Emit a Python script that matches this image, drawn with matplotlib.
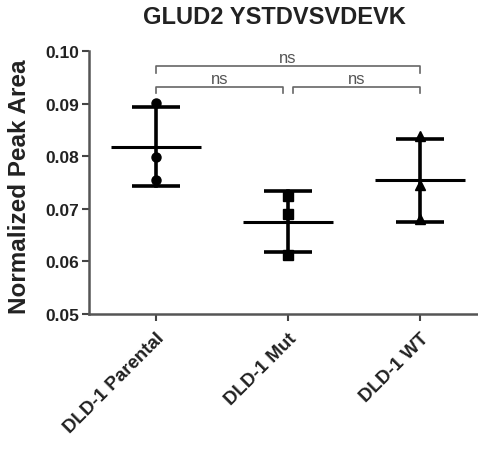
import numpy as np
import matplotlib
matplotlib.use("Agg")
import matplotlib.pyplot as plt

plt.rcParams['font.family'] = ['Liberation Sans', 'DejaVu Sans']

# data
groups = ["DLD-1 Parental", "DLD-1 Mut", "DLD-1 WT"]
parental = [0.0902, 0.0798, 0.0755]
mut = [0.0725, 0.0690, 0.0612]
wt = [0.0838, 0.0745, 0.0681]
markers = ["o", "s", "^"]
comparisons = [(0, 1, "ns", 0.0932), (1, 2, "ns", 0.0932), (0, 2, "ns", 0.0971)]

fig = plt.figure(figsize=(4.78, 4.56), dpi=100)
ax = fig.add_axes([89 / 478, 1 - 315 / 456, (478 - 89) / 478, (315 - 52) / 456])

for i, (vals, m) in enumerate(zip([parental, mut, wt], markers)):
    vals = np.array(vals)
    mean, sd = vals.mean(), vals.std(ddof=1)
    ax.plot([i] * len(vals), vals, marker=m, ls="none", color="black", ms=6.5, zorder=3)
    ax.plot([i, i], [mean - sd, mean + sd], color="black", lw=2.6, zorder=2)
    for y in (mean - sd, mean + sd):
        ax.plot([i - 0.18, i + 0.18], [y, y], color="black", lw=2.6, solid_capstyle="butt")
    ax.plot([i - 0.34, i + 0.34], [mean, mean], color="black", lw=2.2, solid_capstyle="butt")

# significance brackets
for a, b, txt, y in comparisons:
    x0, x1 = a, b
    if b - a == 1:
        x0, x1 = (a, b - 0.04) if a == 0 else (a + 0.04, b)
    h = 0.0012
    ax.plot([x0, x0, x1, x1], [y - h, y, y, y - h], color="#666666", lw=1.2, clip_on=False)
    ax.text((x0 + x1) / 2, y + 0.0002, txt, ha="center", va="bottom",
            fontsize=12, color="#555555")

ax.set_xlim(-0.508, 2.44)
ax.set_ylim(0.05, 0.10)
ax.set_yticks([0.05, 0.06, 0.07, 0.08, 0.09, 0.10])
ax.set_yticklabels([f"{v:.2f}" for v in [0.05, 0.06, 0.07, 0.08, 0.09, 0.10]])
ax.set_xticks(range(len(groups)))
ax.set_xticklabels(groups, rotation=45, ha="right", rotation_mode="anchor")
for lab in ax.get_yticklabels():
    lab.set_fontweight("bold")
    lab.set_fontsize(12.5)
    lab.set_color("#222222")
for lab in ax.get_xticklabels():
    lab.set_fontweight("bold")
    lab.set_fontsize(13.5)
    lab.set_color("#222222")

for s in ("top", "right"):
    ax.spines[s].set_visible(False)
for s in ("left", "bottom"):
    ax.spines[s].set_color("#555555")
    ax.spines[s].set_linewidth(1.8)
ax.tick_params(axis="both", color="#444444", width=1.5, length=5, pad=2)
ax.tick_params(axis="x", pad=6)

fig.text(20 / 478, 1 - 187 / 456, "Normalized Peak Area", rotation=90, ha="center",
         va="center", fontsize=17.5, fontweight="bold", color="#222222")
fig.text(274 / 478, 1 - 18 / 456, "GLUD2 YSTDVSVDEVK", ha="center", va="center",
         fontsize=17, fontweight="bold", color="#222222")

fig.savefig("out.png", dpi=100)
